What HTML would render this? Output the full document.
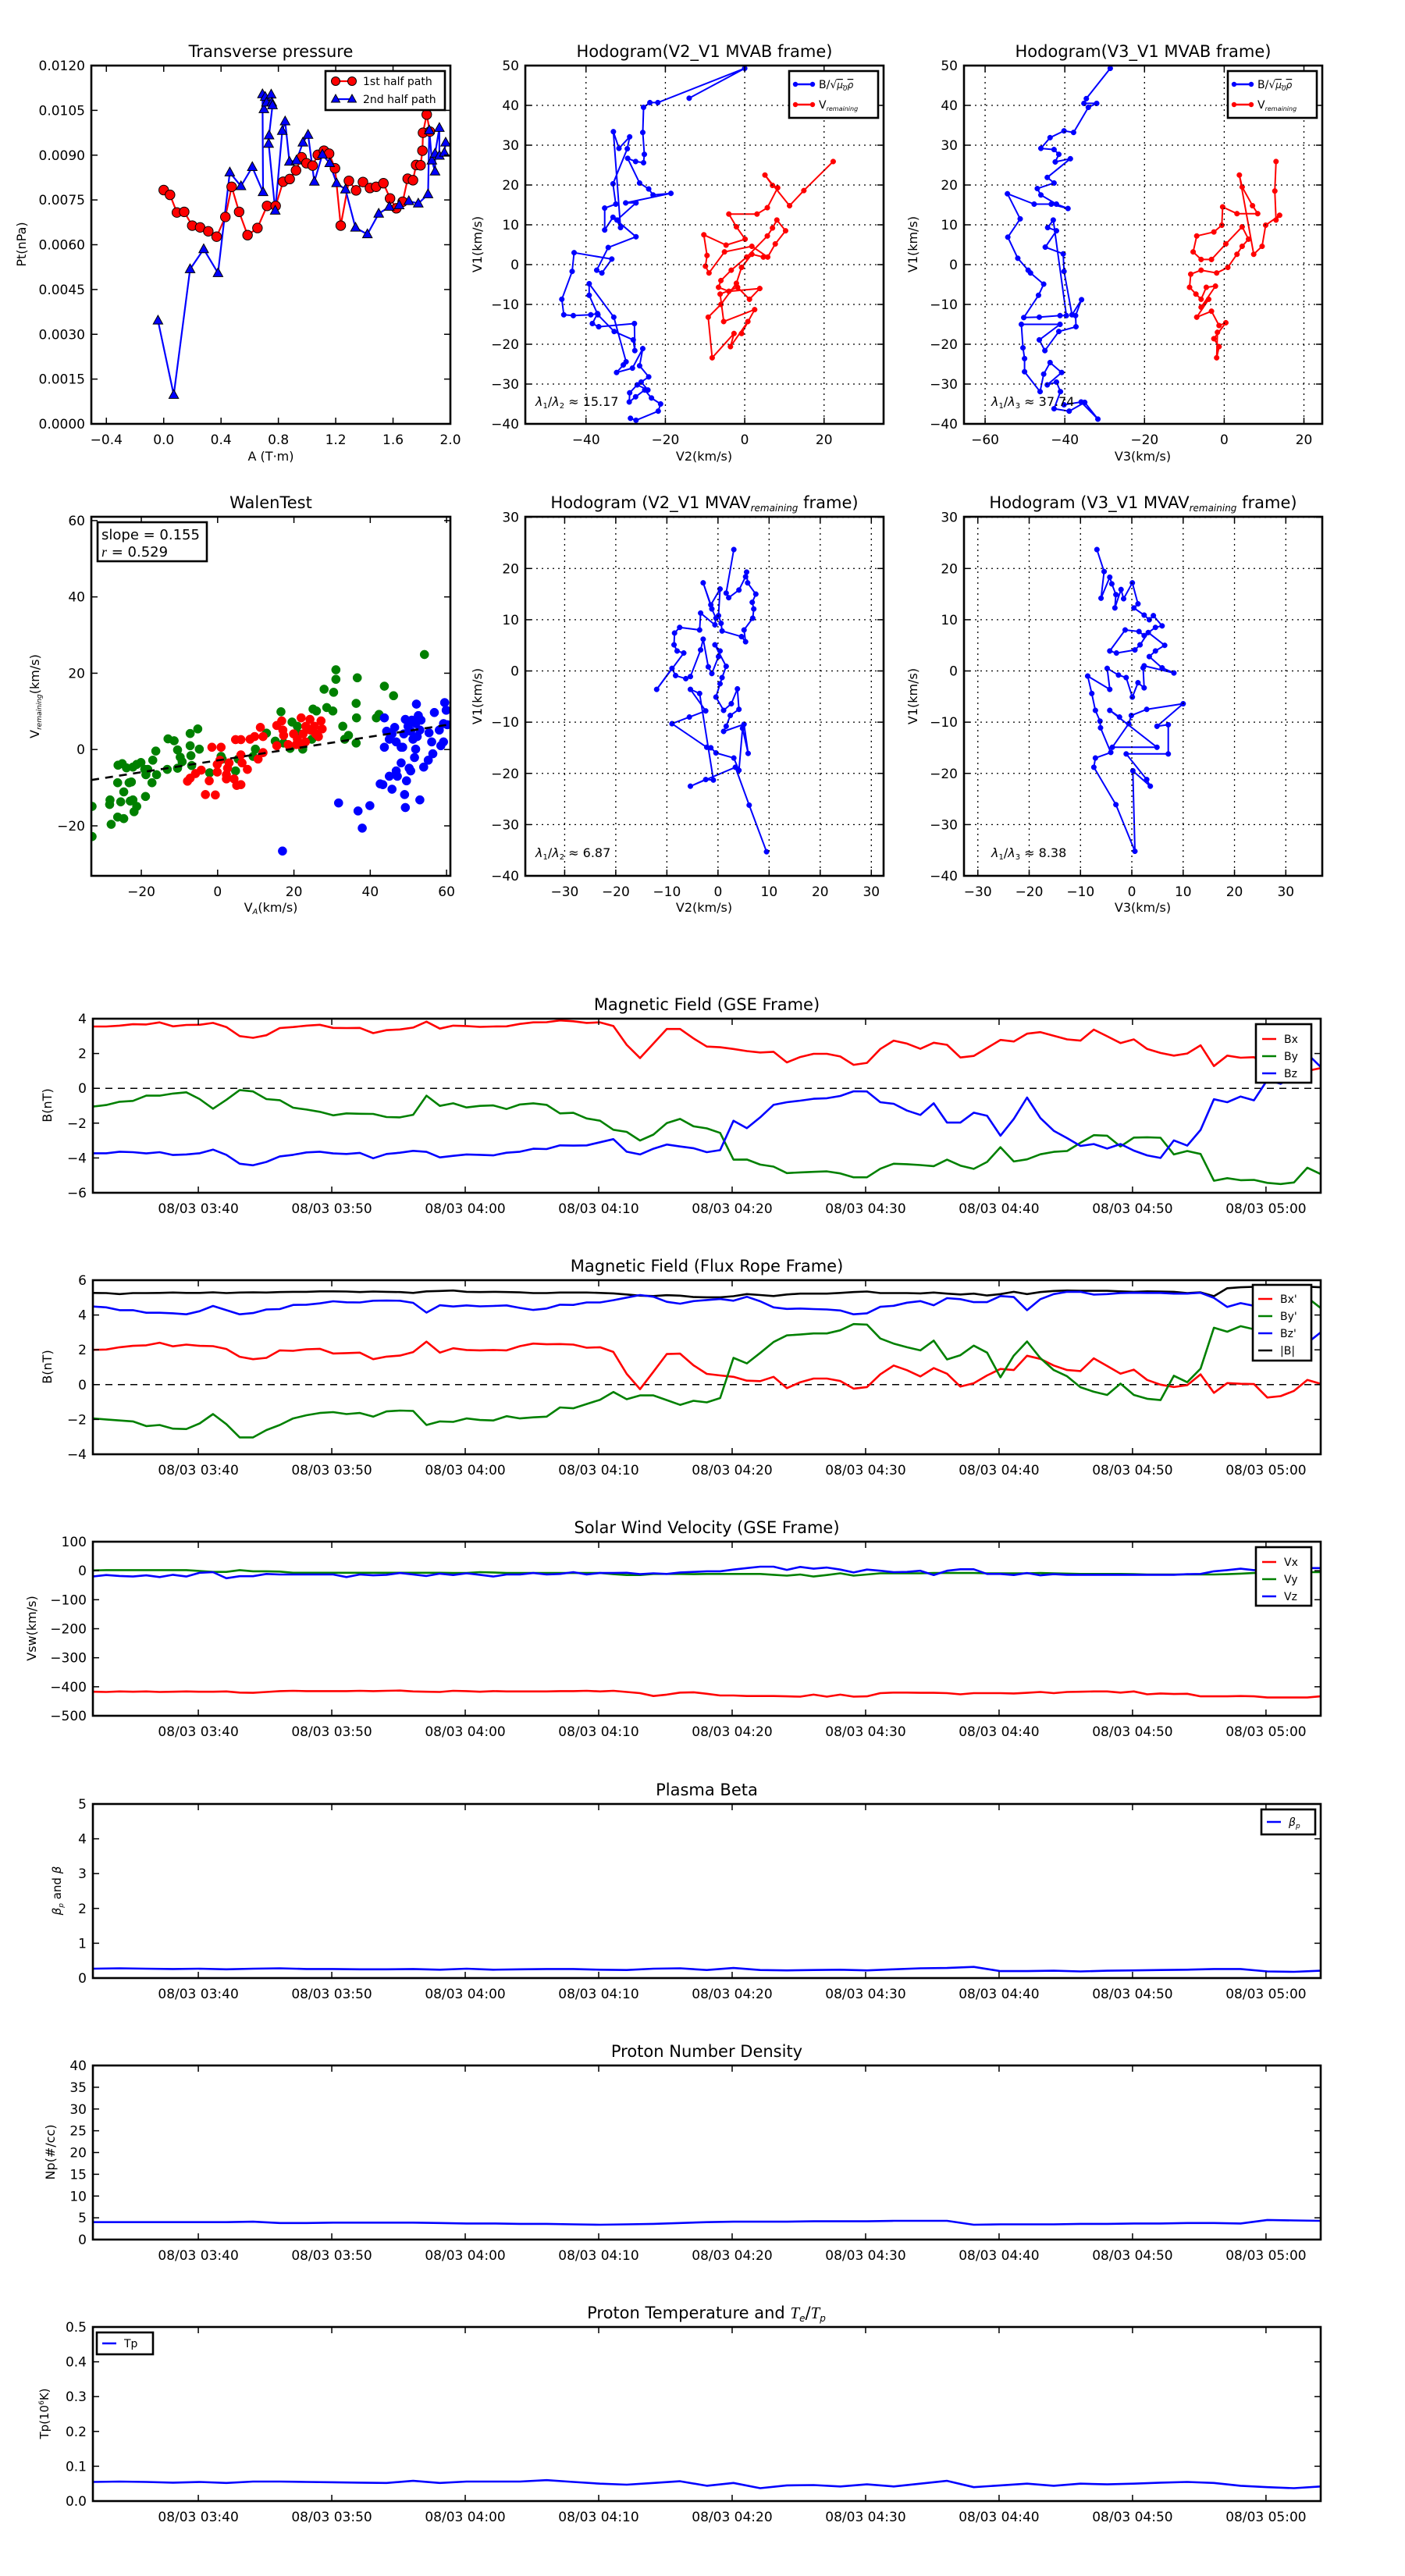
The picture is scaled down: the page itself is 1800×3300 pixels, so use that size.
<!DOCTYPE html>
<html><head><meta charset="utf-8">
<style>
html,body{margin:0;padding:0;background:#fff;}
svg{display:block;font-family:"DejaVu Sans","Liberation Sans",sans-serif;}
</style></head>
<body>
<svg id="chart" width="1800" height="3300" viewBox="0 0 1800 3300" xmlns="http://www.w3.org/2000/svg">
<rect x="0" y="0" width="1800" height="3300" fill="#fff"/>
</svg>
<script>
// ---------- data ----------
const ptA1=[0.0,0.044,0.092,0.143,0.199,0.254,0.311,0.369,0.43,0.474,0.526,0.585,0.654,0.721,0.781,0.833,0.879,0.923,0.962,0.996,1.039,1.075,1.118,1.154,1.195,1.235,1.292,1.342,1.39,1.439,1.482,1.533,1.579,1.623,1.667,1.702,1.739,1.761,1.792,1.805,1.809,1.835,1.857];
const ptP1=[0.00783,0.00767,0.00708,0.0071,0.00664,0.00658,0.00645,0.00627,0.00693,0.00794,0.0071,0.00632,0.00656,0.0073,0.0073,0.00811,0.0082,0.00849,0.00893,0.00873,0.00865,0.00901,0.00915,0.00905,0.00856,0.00664,0.00814,0.00782,0.0081,0.0079,0.00794,0.00806,0.00755,0.00722,0.00744,0.00821,0.00816,0.00867,0.00866,0.00915,0.00975,0.01036,0.00979];
const ptA2=[-0.04,0.07,0.184,0.279,0.379,0.461,0.539,0.618,0.693,0.689,0.699,0.708,0.717,0.75,0.754,0.759,0.735,0.732,0.778,0.827,0.847,0.877,0.926,0.971,1.007,1.051,1.107,1.158,1.206,1.268,1.338,1.421,1.5,1.574,1.643,1.71,1.776,1.844,1.853,1.871,1.893,1.893,1.923,1.923,1.958,1.967];
const ptP2=[0.00346,0.00097,0.00518,0.00585,0.00505,0.00842,0.00796,0.0086,0.00776,0.01104,0.01054,0.01095,0.01076,0.01103,0.01076,0.01067,0.00966,0.00938,0.00714,0.00981,0.01013,0.00878,0.00882,0.00942,0.00968,0.00811,0.00902,0.00873,0.00806,0.00785,0.00657,0.00635,0.00704,0.00727,0.00732,0.00746,0.00738,0.00769,0.00983,0.00882,0.00845,0.00905,0.00991,0.00898,0.00908,0.00942];

const h1B_V2=[-14.0,0,-21.9,-23.9,-25.5,-25.7,-25.3,-25.5,-27.5,-29.5,-26.5,-24.2,-23.1,-18.6,-30.0,-27.4,-32.2,-31.3,-33.1,-31.7,-29.0,-29.6,-33.2,-32.5,-35.3,-35.3,-33.2,-27.4,-34.4,-37.3,-36.0,-33.5,-43.0,-43.5,-46.1,-45.6,-43.2,-38.8,-37.1,-38.4,-36.8,-27.8,-27.7,-28.1,-32.9,-37.0,-39.2,-39.2,-33.0,-29.9,-30.6,-32.3,-28.3,-25.7,-26.5,-24.2,-26.1,-24.4,-27.1,-29.0,-29.1,-27.5,-25.2,-23.5,-21.2,-21.8,-27.4,-28.8];
const h1B_V1=[41.8,49.3,40.7,40.7,39.5,33.2,27.7,25.6,25.9,26.7,20.5,19.0,17.5,17.9,15.5,15.5,11.2,9.3,33.4,29.2,32.1,29.1,20.3,15.2,14.2,8.7,11.9,7.0,4.3,-1.4,-2.1,1.4,3.0,-1.7,-8.7,-12.6,-12.8,-12.6,-12.3,-14.8,-15.6,-14.8,-21.6,-18.9,-16.8,-12.6,-7.7,-4.8,-13.2,-24.4,-25.2,-27.1,-26.0,-21.1,-25.4,-28.2,-29.5,-31.5,-30.2,-32.2,-34.5,-33.2,-31.5,-33.5,-35.0,-36.8,-39.1,-38.6];
const h1V_V2=[22.3,14.9,11.3,5.1,7.0,8.3,5.7,3.1,-4.0,-2.1,0.1,-4.7,-10.3,-9.5,-9.9,-9.0,-5.1,1.8,5.8,7.7,10.3,8.1,7.0,5.7,0.5,-3.4,-6.0,-6.6,-4.0,3.8,1.2,-1.8,-6.2,-5.3,2.5,-0.8,0.8,-3.6,-2.7,-8.2,-9.2,-6.0,-2.1,-0.8,1.8,4.7];
const h1V_V1=[25.9,18.6,14.8,22.5,19.9,19.3,14.3,12.7,12.7,9.5,6.4,4.9,7.5,2.3,-0.4,-2.1,3.2,4.6,1.9,5.2,8.5,11.2,9.2,7.2,1.9,-1.4,-4.0,-5.7,-6.7,-6.0,-8.7,-5.7,-7.4,-14.3,-11.3,-17.3,-14.3,-20.6,-17.3,-23.4,-13.2,-10.0,-4.7,-0.7,2.6,1.9];

const h2B_V3=[-28.6,-34.6,-35.2,-32.0,-34.1,-37.8,-40.2,-43.7,-46.0,-42.7,-41.5,-42.4,-38.6,-44.4,-42.7,-46.9,-46.0,-42.1,-39.2,-43.4,-47.7,-54.4,-51.2,-54.3,-51.8,-49.2,-48.6,-45.3,-46.6,-50.3,-46.4,-41.2,-39.6,-42.9,-44.3,-42.1,-44.9,-40.4,-40.2,-38.2,-35.8,-37.3,-37.2,-41.5,-45.0,-46.4,-41.2,-50.9,-50.5,-50.1,-50.1,-46.2,-45.3,-43.7,-40.8,-44.4,-42.1,-41.1,-42.7,-38.9,-35.0,-31.7,-35.9,-40.2];
const h2B_V1=[49.3,41.7,40.5,40.5,39.5,33.2,33.6,31.9,29.2,28.9,27.7,25.8,26.6,21.9,20.5,19.1,17.5,15.2,14.1,15.2,15.2,17.8,11.5,6.9,1.6,-1.4,-2.1,-4.9,-7.7,-13.3,-13.2,-12.8,-12.8,11.2,9.3,8.5,4.4,2.7,-1.7,-12.6,-8.8,-12.8,-15.6,-16.8,-21.6,-18.9,-15.0,-15.0,-20.9,-23.6,-26.9,-31.9,-27.5,-24.6,-27.1,-30.2,-29.5,-31.9,-36.2,-36.8,-34.6,-38.8,-34.5,-35.2];
const h2V_V3=[13.0,12.7,13.0,13.9,10.4,9.5,7.4,3.8,4.5,7.1,8.4,3.2,-0.4,-0.6,-2.6,-6.9,-7.8,-5.8,-3.2,0.4,4.5,6.1,4.5,3.2,0.9,-1.9,-5.8,-8.4,-8.7,-7.1,-5.8,-4.5,-2.2,-5.8,-3.9,-6.9,-3.2,-1.3,0.4,-2.6,-1.3,-1.9,-1.7];
const h2V_V1=[25.9,18.5,11.2,12.4,9.9,4.6,2.6,22.5,19.5,14.8,12.8,12.8,14.5,9.9,8.2,7.2,3.2,1.3,1.3,5.2,9.5,6.4,4.6,2.6,-0.7,-2.1,-1.4,-2.4,-5.7,-7.4,-8.7,-5.7,-5.4,-10.7,-8.7,-13.2,-11.7,-15.3,-14.6,-18.6,-20.6,-23.4,-17.0];

const walenGreenX=[-32.9,-32.9,-27.9,-28.3,-28.2,-26.2,-24.6,-25.4,-24.6,-26.2,-23.2,-22.6,-22.9,-22.2,-21.2,-21.9,-18.9,-17.2,-18.8,-18.3,-16.0,-17.0,-16.2,-26.1,-25.0,-23.9,-22.2,-21.2,-20.1,-19.1,-13.2,-13.0,-11.4,-10.5,-9.8,-10.5,-9.3,-7.2,-7.2,-5.2,-7.0,-6.8,-4.8,-2.1,0.9,1.2,5.4,4.7,9.9,9.3,12.8,15.1,16.6,17.3,19.0,19.5,20.9,21.1,22.3,24.7,25.0,25.9,26.4,27.9,28.6,30.2,30.4,31.0,31.0,32.8,33.3,34.3,36.3,36.4,36.3,36.6,41.6,42.3,43.7,46.1,54.2];
const walenGreenY=[-14.9,-22.8,-19.6,-14.4,-13.2,-17.7,-18.1,-13.7,-11.1,-8.7,-8.7,-8.5,-13.5,-13.2,-14.9,-16.3,-12.3,-8.7,-6.6,-5.2,-6.6,-2.8,-0.4,-4.1,-3.7,-4.8,-4.6,-3.9,-3.4,-5.2,-5.2,2.8,2.3,-0.1,-2.0,-4.9,-3.2,1.0,4.2,5.4,-1.6,-4.2,0.1,-6.1,-1.8,-2.5,-2.5,-5.6,0.1,-1.8,4.3,2.2,9.9,1.7,0.3,7.2,6.1,4.2,0.1,2.7,10.6,10.1,3.4,15.8,11.0,10.1,15.0,18.4,20.9,6.1,2.7,3.7,12.1,8.3,1.7,18.8,8.3,9.2,16.6,14.1,24.9];
const walenRedX=[-7.9,-7.2,-5.8,-4.3,-3.2,-0.6,-2.2,-1.5,-0.1,0.6,0.9,-0.1,2.3,2.6,3.0,2.3,4.3,5.0,6.1,4.7,6.1,6.1,6.4,7.8,8.5,9.7,11.2,11.9,11.9,10.6,15.5,16.8,17.3,17.1,15.5,18.5,19.9,20.9,21.9,22.4,23.1,24.2,24.3,25.4,25.7,26.4,27.1,27.4,23.0,21.6,20.6];
const walenRedY=[-8.3,-7.5,-6.3,-5.4,-11.8,-11.9,-8.2,0.6,-5.9,-2.8,0.6,-3.9,-7.7,-4.9,-3.5,-6.6,-7.7,-9.4,-9.2,2.6,2.6,-1.4,-3.5,-5.2,2.7,3.4,5.8,3.4,-0.8,-2.5,6.3,7.5,3.7,5.1,1.0,1.3,4.1,2.7,8.3,4.1,6.1,7.9,5.1,6.1,4.1,3.4,7.5,5.4,2.0,1.3,1.3];
const walenBlueX=[17.0,31.7,36.8,37.9,39.9,42.6,43.3,45.7,43.7,43.7,44.3,46.4,46.8,48.1,49.2,49.0,49.5,48.1,46.8,45.0,47.1,48.5,50.2,50.6,51.9,51.6,52.1,52.6,53.0,54.0,55.4,56.1,56.4,55.2,56.8,58.5,59.2,59.5,59.9,59.2,58.1,60.2,50.9,51.9,53.3,49.2,49.9,52.3,53.0,51.2,50.6,48.8,45.0,45.7];
const walenBlueY=[-26.6,-14.0,-16.1,-20.6,-14.7,-9.0,-9.2,-10.4,0.6,8.3,4.8,5.8,2.0,0.6,-15.2,-11.8,-8.2,-3.5,-5.6,-7.0,-7.0,0.6,-4.9,-5.6,0.1,-2.1,11.9,8.9,-13.2,-4.6,4.4,2.0,-1.1,-2.8,9.7,1.0,2.0,12.3,10.3,6.8,5.1,6.5,7.7,6.8,7.7,7.9,6.1,3.4,5.1,2.7,4.8,4.1,2.7,4.1];
const walenSlope=[0.155];
const walenIntercept=[-2.85];

const h3_V2=[3.1,1.6,2.1,4.1,5.4,5.6,5.8,7.4,6.7,7.0,6.8,5.1,5.4,4.6,0.8,0.6,0.1,0.4,-1.4,-2.9,-1.2,-0.4,-0.6,-3.4,-3.6,-7.5,-8.5,-8.6,-8.0,-6.7,-12.0,-9.0,-8.3,-6.3,-5.4,-3.4,-2.9,-1.9,-1.2,0.1,0.4,-0.6,1.6,0.8,0.4,-0.4,1.1,2.6,3.8,4.1,2.4,1.6,1.1,5.1,5.9,4.8,4.1,3.1,-0.4,-1.4,-2.2,-9.0,-5.6,-2.4,-5.4,-3.6,-0.9,-2.4,-5.4,3.4,6.1,9.5];
const h3_V1=[23.7,15.2,14.3,15.8,18.4,19.3,17.2,15.0,13.4,12.1,10.3,8.0,5.7,6.7,7.8,9.3,10.8,16.0,12.9,17.2,12.1,10.3,9.0,11.3,8.0,8.5,7.4,5.1,3.9,3.5,-3.6,0.5,-0.9,-1.5,-1.1,4.1,6.2,0.8,-0.5,2.8,3.9,5.1,0.9,-1.3,-2.5,-5.1,-7.7,-6.4,-3.5,-7.5,-8.7,-10.8,-11.8,-10.4,-16.1,-11.2,-19.4,-17.0,-16.0,-15.0,-14.9,-10.3,-9.0,-7.8,-3.6,-4.4,-21.3,-21.2,-22.5,-18.8,-26.2,-35.3];
const h4_V3=[-6.8,-5.4,-6.0,-4.3,-3.9,-3.1,-3.3,-2.1,-1.6,0.1,1.2,0.4,2.4,3.4,4.2,5.9,4.6,2.4,1.4,-1.3,-4.3,-3.0,0.6,1.6,3.2,6.4,4.6,3.4,5.9,8.2,2.4,2.2,2.4,1.2,0.1,-1.1,-2.6,-4.8,-4.3,-8.6,-7.8,-7.1,-6.2,-6.1,-4.1,-7.1,-7.4,-3.1,0.6,0.2,3.6,2.9,-1.1,7.1,7.1,4.9,10.0,2.9,-0.1,-0.6,-3.8,4.9,-4.3,-2.4];
const h4_V1=[23.7,19.4,14.2,18.3,17.0,14.9,12.3,15.9,14.1,17.2,13.1,12.3,10.9,10.0,10.8,8.8,8.5,6.9,7.7,8.0,3.9,3.5,4.1,5.1,7.5,5.0,3.9,2.8,0.6,-0.4,1.0,0.6,-3.3,-2.3,-5.1,-1.3,-0.8,0.5,-3.6,-1.0,-4.4,-7.7,-9.8,-11.1,-15.9,-17.0,-18.8,-26.1,-35.2,-19.5,-22.5,-21.2,-16.2,-16.2,-10.5,-10.8,-6.4,-7.5,-8.7,-10.3,-14.9,-14.9,-7.7,-9.0];

const bxGse=[3.55,3.55,3.6,3.68,3.67,3.79,3.56,3.64,3.65,3.76,3.52,3.0,2.9,3.05,3.46,3.52,3.6,3.65,3.47,3.46,3.47,3.17,3.34,3.38,3.49,3.83,3.43,3.6,3.58,3.53,3.55,3.56,3.7,3.79,3.8,3.9,3.85,3.76,3.79,3.58,2.5,1.74,2.57,3.41,3.41,2.87,2.4,2.36,2.26,2.14,2.06,2.1,1.49,1.8,1.98,1.98,1.83,1.35,1.46,2.26,2.74,2.57,2.27,2.62,2.5,1.77,1.86,2.32,2.78,2.69,3.14,3.23,3.02,2.81,2.74,3.37,2.99,2.6,2.81,2.26,2.03,1.88,2.0,2.47,1.28,1.88,1.76,1.79,1.3,1.5,1.4,1.0,1.16];
const byGse=[-1.05,-0.96,-0.77,-0.72,-0.42,-0.42,-0.3,-0.23,-0.62,-1.17,-0.66,-0.1,-0.18,-0.62,-0.68,-1.11,-1.22,-1.35,-1.55,-1.44,-1.46,-1.47,-1.65,-1.67,-1.52,-0.42,-1.01,-0.86,-1.1,-1.01,-0.98,-1.19,-0.93,-0.86,-0.95,-1.44,-1.41,-1.73,-1.86,-2.38,-2.5,-3.0,-2.66,-2.0,-1.76,-2.18,-2.3,-2.56,-4.1,-4.09,-4.38,-4.5,-4.87,-4.83,-4.8,-4.77,-4.89,-5.11,-5.11,-4.62,-4.33,-4.36,-4.41,-4.47,-4.1,-4.44,-4.63,-4.23,-3.38,-4.2,-4.08,-3.79,-3.65,-3.6,-3.13,-2.69,-2.72,-3.34,-2.83,-2.81,-2.84,-3.8,-3.6,-3.77,-5.31,-5.16,-5.28,-5.26,-5.43,-5.5,-5.41,-4.56,-4.93];
const bzGse=[-3.73,-3.73,-3.64,-3.67,-3.74,-3.67,-3.83,-3.8,-3.73,-3.52,-3.82,-4.33,-4.42,-4.23,-3.91,-3.82,-3.68,-3.64,-3.74,-3.77,-3.71,-4.02,-3.77,-3.7,-3.59,-3.65,-3.97,-3.88,-3.8,-3.82,-3.85,-3.7,-3.64,-3.47,-3.49,-3.28,-3.29,-3.28,-3.1,-2.92,-3.64,-3.8,-3.47,-3.23,-3.34,-3.44,-3.67,-3.55,-1.86,-2.29,-1.67,-0.95,-0.8,-0.71,-0.6,-0.57,-0.44,-0.17,-0.18,-0.8,-0.89,-1.28,-1.53,-0.86,-1.97,-1.97,-1.4,-1.58,-2.72,-1.76,-0.53,-1.71,-2.44,-2.86,-3.31,-3.2,-3.46,-3.2,-3.58,-3.85,-4.0,-2.99,-3.29,-2.39,-0.63,-0.8,-0.47,-0.69,0.48,0.26,0.7,1.98,1.23];

const bxFr=[2.0,2.02,2.15,2.23,2.26,2.41,2.2,2.3,2.23,2.21,2.05,1.6,1.46,1.54,1.97,1.94,2.03,2.06,1.79,1.81,1.84,1.46,1.61,1.67,1.87,2.47,1.84,2.09,1.99,1.97,1.99,1.97,2.21,2.36,2.32,2.33,2.3,2.12,2.15,1.88,0.62,-0.26,0.74,1.76,1.78,1.11,0.62,0.53,0.45,0.23,0.2,0.45,-0.2,0.14,0.35,0.35,0.21,-0.23,-0.14,0.59,1.1,0.83,0.47,0.95,0.63,-0.11,0.08,0.53,0.9,0.84,1.66,1.48,1.1,0.84,0.78,1.51,1.07,0.63,0.86,0.27,0,-0.14,-0.03,0.59,-0.47,0.09,0.05,0.03,-0.74,-0.66,-0.36,0.27,0.05];
const byFr=[-1.94,-2.0,-2.06,-2.11,-2.38,-2.32,-2.53,-2.55,-2.23,-1.69,-2.27,-3.03,-3.03,-2.61,-2.32,-1.94,-1.76,-1.63,-1.58,-1.69,-1.63,-1.84,-1.54,-1.49,-1.51,-2.32,-2.11,-2.14,-1.94,-2.03,-2.06,-1.81,-1.94,-1.88,-1.84,-1.31,-1.36,-1.11,-0.87,-0.42,-0.84,-0.62,-0.62,-0.89,-1.16,-0.93,-1.02,-0.77,1.54,1.22,1.82,2.45,2.83,2.88,2.94,2.94,3.12,3.48,3.45,2.65,2.36,2.15,1.97,2.53,1.45,1.69,2.24,1.84,0.42,1.67,2.48,1.52,0.84,0.48,-0.15,-0.41,-0.59,0.06,-0.59,-0.81,-0.89,0.51,0.14,0.92,3.27,3.04,3.36,3.18,3.3,3.6,4.5,5.0,4.4];
const bzFr=[4.49,4.44,4.28,4.28,4.13,4.13,4.1,4.04,4.22,4.52,4.28,4.04,4.11,4.32,4.34,4.58,4.59,4.67,4.79,4.73,4.72,4.82,4.83,4.82,4.7,4.14,4.56,4.49,4.55,4.5,4.52,4.55,4.41,4.29,4.37,4.59,4.58,4.72,4.72,4.85,5.0,5.15,5.05,4.76,4.65,4.8,4.86,4.92,4.82,5.05,4.79,4.44,4.35,4.37,4.34,4.32,4.26,4.04,4.1,4.47,4.53,4.71,4.8,4.56,4.97,4.91,4.74,4.74,5.09,5.03,4.28,4.91,5.2,5.33,5.33,5.17,5.2,5.26,5.28,5.27,5.27,5.23,5.23,5.28,4.98,4.46,4.68,4.53,4.65,4.5,4.4,2.4,3.0];
const btFr=[5.27,5.26,5.2,5.26,5.26,5.27,5.29,5.27,5.27,5.3,5.26,5.29,5.3,5.29,5.32,5.33,5.33,5.36,5.36,5.35,5.32,5.35,5.33,5.32,5.27,5.36,5.38,5.41,5.33,5.32,5.33,5.32,5.3,5.26,5.26,5.29,5.29,5.29,5.27,5.24,5.18,5.11,5.09,5.14,5.11,5.03,5.02,5.02,5.08,5.2,5.15,5.09,5.18,5.23,5.23,5.23,5.27,5.32,5.35,5.26,5.26,5.26,5.24,5.29,5.23,5.18,5.23,5.12,5.2,5.33,5.2,5.32,5.38,5.41,5.39,5.39,5.39,5.36,5.33,5.36,5.35,5.33,5.26,5.3,5.08,5.54,5.59,5.62,5.63,5.65,5.65,5.63,5.59];

const vx=[-417,-418,-416,-417,-416,-418,-417,-416,-417,-417,-416,-420,-421,-418,-415,-414,-415,-415,-415,-415,-414,-415,-414,-413,-416,-417,-418,-414,-415,-417,-415,-416,-416,-416,-416,-415,-415,-414,-416,-414,-418,-422,-432,-427,-420,-419,-424,-430,-430,-432,-432,-432,-433,-434,-427,-434,-427,-434,-433,-422,-420,-420,-421,-421,-422,-426,-422,-422,-422,-423,-421,-418,-422,-418,-417,-416,-416,-420,-416,-426,-423,-425,-424,-433,-433,-433,-432,-433,-437,-437,-437,-437,-433];
const vy=[1,2,2,2,2,2,2,2,-1,-4,-4,2,-2,-2,-3,-7,-7,-7,-7,-7,-7,-7,-7,-7,-7,-7,-7,-8,-8,-5,-6,-8,-8,-8,-8,-8,-8,-8,-8,-12,-15,-15,-11,-11,-11,-12,-11,-11,-11,-11,-11,-14,-17,-13,-20,-15,-9,-17,-13,-9,-9,-9,-9,-8,-8,-8,-8,-9,-9,-9,-9,-8,-9,-10,-11,-11,-11,-11,-12,-13,-13,-13,-13,-13,-13,-12,-10,-8,-6,-5,-5,-5,-5];
const vz=[-20,-15,-18,-20,-16,-22,-14,-20,-7,-5,-26,-19,-19,-11,-13,-13,-13,-13,-13,-22,-13,-16,-14,-8,-13,-18,-10,-15,-9,-14,-20,-13,-13,-8,-13,-11,-5,-13,-8,-8,-7,-12,-9,-11,-6,-4,-2,-2,4,9,14,14,3,13,7,11,4,-6,4,0,-5,-4,0,-15,0,5,5,-11,-11,-15,-8,-16,-12,-14,-14,-14,-14,-14,-14,-14,-14,-14,-12,-11,-2,2,7,2,5,10,13,9,9];

const betaP=[0.27,0.28,0.27,0.26,0.27,0.25,0.27,0.28,0.26,0.26,0.25,0.25,0.26,0.24,0.27,0.24,0.25,0.26,0.26,0.24,0.23,0.27,0.28,0.23,0.29,0.23,0.22,0.23,0.24,0.22,0.25,0.28,0.29,0.32,0.2,0.2,0.21,0.19,0.21,0.22,0.23,0.24,0.26,0.26,0.19,0.18,0.21];
const npDens=[4.0,4.0,4.0,4.0,4.0,4.0,4.1,3.8,3.8,3.9,3.9,3.9,3.9,3.8,3.7,3.7,3.6,3.6,3.5,3.4,3.5,3.6,3.8,4.0,4.1,4.1,4.1,4.2,4.2,4.2,4.3,4.3,4.3,3.4,3.5,3.5,3.5,3.6,3.6,3.7,3.7,3.8,3.8,3.7,4.5,4.4,4.3];
const tpTemp=[0.055,0.056,0.055,0.053,0.055,0.052,0.056,0.056,0.055,0.054,0.053,0.052,0.058,0.052,0.056,0.056,0.056,0.06,0.055,0.05,0.047,0.052,0.057,0.044,0.052,0.037,0.045,0.046,0.042,0.048,0.042,0.05,0.058,0.04,0.045,0.05,0.044,0.05,0.048,0.05,0.053,0.055,0.052,0.044,0.04,0.037,0.042];

const timeTickMin=[40,50,60,70,80,90,100,110,120];
const timeTickLabels=["08/03 03:40","08/03 03:50","08/03 04:00","08/03 04:10","08/03 04:20","08/03 04:30","08/03 04:40","08/03 04:50","08/03 05:00"];
const TSTART=32.1, TEND=124.1;

// ---------- helpers ----------
const NS='http://www.w3.org/2000/svg';
const svg=document.getElementById('chart');
function el(tag,attrs,parent){const e=document.createElementNS(NS,tag);for(const k in attrs)e.setAttribute(k,attrs[k]);(parent||svg).appendChild(e);return e;}
let clipN=0;
function makeAxes(name,x0,y0,w,h,xd,yd){
  const g=el('g',{});
  
  
  const id='clip'+(clipN++);
  const cp=el('clipPath',{id:id},g);el('rect',{x:x0,y:y0,width:w,height:h},cp);
  const plot=el('g',{'clip-path':'url(#'+id+')'},g);
  
  
  return {g,plot,x0,y0,w,h,sx:v=>x0+(v-xd[0])/(xd[1]-xd[0])*w,sy:v=>y0+h-(v-yd[0])/(yd[1]-yd[0])*h};
}
function frame(ax){
  const r=el('rect',{x:ax.x0,y:ax.y0,width:ax.w,height:ax.h,fill:'none',stroke:'#000','stroke-width':2.6},ax.g);
  
  
}
function txt(parent,x,y,s,size,anchor,extra){
  const t=el('text',Object.assign({x:x,y:y,'font-size':size,'text-anchor':anchor||'start',fill:'#000'},extra||{}),parent);
  t.textContent=s;return t;
}
function xTicks(ax,vals,labels,grid,name){
  vals.forEach((v,i)=>{
    const x=ax.sx(v);
    if(grid){const gl=el('line',{x1:x,x2:x,y1:ax.y0,y2:ax.y0+ax.h,stroke:'#000','stroke-width':1.3,'stroke-dasharray':'2,5'},ax.g);}
    el('line',{x1:x,x2:x,y1:ax.y0+ax.h,y2:ax.y0+ax.h-8,stroke:'#000','stroke-width':1.5},ax.g);
    el('line',{x1:x,x2:x,y1:ax.y0,y2:ax.y0+8,stroke:'#000','stroke-width':1.5},ax.g);
    const t=txt(ax.g,x,ax.y0+ax.h+26,labels[i],17,'middle');
    
    
  });
}
function yTicks(ax,vals,labels,grid,name){
  vals.forEach((v,i)=>{
    const y=ax.sy(v);
    if(grid){const gl=el('line',{x1:ax.x0,x2:ax.x0+ax.w,y1:y,y2:y,stroke:'#000','stroke-width':1.3,'stroke-dasharray':'2,5'},ax.g);}
    el('line',{x1:ax.x0,x2:ax.x0+8,y1:y,y2:y,stroke:'#000','stroke-width':1.5},ax.g);
    el('line',{x1:ax.x0+ax.w,x2:ax.x0+ax.w-8,y1:y,y2:y,stroke:'#000','stroke-width':1.5},ax.g);
    const t=txt(ax.g,ax.x0-8,y+6,labels[i],17,'end');
    
    
  });
}
function line(ax,xs,ys,color,name,width,dash){
  const pts=xs.map((x,i)=>ax.sx(x).toFixed(1)+','+ax.sy(ys[i]).toFixed(1)).join(' ');
  const p=el('polyline',{points:pts,fill:'none',stroke:color,'stroke-width':width||2.6,'stroke-linejoin':'round'},ax.plot);
  if(dash)p.setAttribute('stroke-dasharray',dash);
  
  
  return p;
}
function markers(ax,xs,ys,shape,color,r,name){
  const g=el('g',{},ax.plot);
  
  
  xs.forEach((x,i)=>{
    const cx=ax.sx(x),cy=ax.sy(ys[i]);let m;
    if(shape==='tri'){m=el('polygon',{points:`${cx},${cy-r*1.2} ${cx-r*1.1},${cy+r*0.8} ${cx+r*1.1},${cy+r*0.8}`,fill:color,stroke:'#000','stroke-width':1},g);}
    else if(shape==='circ'){m=el('circle',{cx:cx,cy:cy,r:r,fill:color,stroke:'#000','stroke-width':1},g);}
    else {m=el('circle',{cx:cx,cy:cy,r:r,fill:color,stroke:color,'stroke-width':0.5},g);}
    
    
  });
}
function title(ax,s,name){const t=txt(svg,ax.x0+ax.w/2,ax.y0-11,s,21,'middle');return t;}
function ylabel(x,y,s,name,size){const t=txt(svg,x,y,s,size||16,'middle',{transform:`rotate(-90 ${x} ${y})`});return t;}
function xlabel(x,y,s,name){const t=txt(svg,x,y,s,16,'middle');return t;}
function legendBox(x,y,w,h,name){const g=el('g',{});el('rect',{x:x,y:y,width:w,height:h,fill:'#fff',stroke:'#000','stroke-width':2.6},g);return g;}
function legendLine(g,x,y,len,color,label,size){
  const l=el('line',{x1:x,x2:x+len,y1:y,y2:y,stroke:color,'stroke-width':2.6},g);
  
  
  const t=txt(g,x+len+10,y+5,label,size||15,'start');
  
  
  return t;
}
function tminIdx(arr){return arr.map((_,i)=>TSTART+i*(TEND-TSTART)/(arr.length-1));}
function rng(a,b,s){const o=[];for(let v=a;v<=b+1e-9;v+=s)o.push(+v.toFixed(6));return o;}
const MINUS='\u2212';
function fmt(v,d){const s=Math.abs(v).toFixed(d);return (v<0?MINUS:'')+s;}

// ---------- Row 1: Transverse pressure ----------
{
  const ax=makeAxes('transverse-pressure-chart',117,84,460,459,[-0.505,2.0],[0,0.012]);
  const xv=rng(-0.4,2.0,0.4);xTicks(ax,xv,xv.map(v=>fmt(v,1)),false,'x-axis');
  const yv=rng(0,0.012,0.0015);yTicks(ax,yv,yv.map(v=>v.toFixed(4)),false,'y-axis');
  line(ax,ptA1,ptP1,'#ff0000','first-half-path-line',2.2);
  line(ax,ptA2,ptP2,'#0000ff','second-half-path-line',2.2);
  markers(ax,ptA1,ptP1,'circ','#ff0000',6.2,'first-half-path-markers');
  markers(ax,ptA2,ptP2,'tri','#0000ff',5.6,'second-half-path-markers');
  frame(ax);
  title(ax,'Transverse pressure','transverse-pressure-title');
  ylabel(33,313,'Pt(nPa)','y-axis-title',16);
  xlabel(347,590,'A (T\u00b7m)','x-axis-title');
  const lg=legendBox(417,91,153,50,'pt-legend');
  [[104,'#ff0000','circ','1st half path'],[127,'#0000ff','tri','2nd half path']].forEach(e=>{
    const y=e[0];
    const l=el('line',{x1:430,x2:451,y1:y,y2:y,stroke:e[1],'stroke-width':2.2},lg);
    
    
    [430,451].forEach(cx=>{
      if(e[2]==='circ')el('circle',{cx:cx,cy:y,r:5.5,fill:e[1],stroke:'#000','stroke-width':1},lg);
      else el('polygon',{points:`${cx},${y-6} ${cx-5.5},${y+4} ${cx+5.5},${y+4}`,fill:e[1],stroke:'#000','stroke-width':1},lg);
    });
    const t=txt(lg,465,y+5,e[3],14,'start');
    
    
  });
}

function hodoLegend(x,y,name){
  const lg=legendBox(x,y,114,60,name);
  const items=[[y+17,'#0000ff'],[y+43,'#ff0000']];
  items.forEach(e=>{
    const l=el('line',{x1:x+8,x2:x+30,y1:e[0],y2:e[0],stroke:e[1],'stroke-width':2.4},lg);
    
    
    el('circle',{cx:x+8,cy:e[0],r:3.2,fill:e[1]},lg);el('circle',{cx:x+30,cy:e[0],r:3.2,fill:e[1]},lg);
  });
  const t1=el('text',{x:x+38,y:y+22,'font-size':14},lg);
  
  
  t1.innerHTML='B/\u221a<tspan text-decoration="overline" font-style="italic" font-size="12">\u03bc<tspan font-size="9" dy="3">0</tspan><tspan dy="-3">\u03c1</tspan></tspan>';
  const t2=el('text',{x:x+38,y:y+48,'font-size':14},lg);
  
  
  t2.innerHTML='V<tspan font-size="8" font-style="italic" dy="3">remaining</tspan>';
}
function lambdaText(x,y,sub,val,name){
  const t=el('text',{x:x,y:y,'font-size':16,fill:'#000'});
  
  
  t.innerHTML=`<tspan font-style="italic">\u03bb</tspan><tspan font-size="10" dy="3">1</tspan><tspan dy="-3">/</tspan><tspan font-style="italic">\u03bb</tspan><tspan font-size="10" dy="3">${sub}</tspan><tspan dy="-3"> \u2248 ${val}</tspan>`;
}

// ---------- Hodogram V2_V1 MVAB ----------
{
  const ax=makeAxes('hodogram-v2-v1-mvab',673,84,459,459,[-55.3,35.0],[-40,50]);
  const xv=[-40,-20,0,20];xTicks(ax,xv,xv.map(v=>fmt(v,0)),true,'x-axis');
  const yv=rng(-40,50,10);yTicks(ax,yv,yv.map(v=>fmt(v,0)),true,'y-axis');
  line(ax,h1B_V2,h1B_V1,'#0000ff','b-alfven-path',2);
  markers(ax,h1B_V2,h1B_V1,'dot','#0000ff',3.3,'b-alfven-points');
  line(ax,h1V_V2,h1V_V1,'#ff0000','v-remaining-path',2);
  markers(ax,h1V_V2,h1V_V1,'dot','#ff0000',3.3,'v-remaining-points');
  frame(ax);
  title(ax,'Hodogram(V2_V1 MVAB frame)','hodogram-v2-v1-mvab-title');
  ylabel(617,313,'V1(km/s)','y-axis-title');
  xlabel(902,590,'V2(km/s)','x-axis-title');
  hodoLegend(1011,91,'hodogram-v2-legend');
  lambdaText(686,520,'2','15.17','eigen-ratio-label');
}
// ---------- Hodogram V3_V1 MVAB ----------
{
  const ax=makeAxes('hodogram-v3-v1-mvab',1235,84,459,459,[-65.3,24.6],[-40,50]);
  const xv=[-60,-40,-20,0,20];xTicks(ax,xv,xv.map(v=>fmt(v,0)),true,'x-axis');
  const yv=rng(-40,50,10);yTicks(ax,yv,yv.map(v=>fmt(v,0)),true,'y-axis');
  line(ax,h2B_V3,h2B_V1,'#0000ff','b-alfven-path',2);
  markers(ax,h2B_V3,h2B_V1,'dot','#0000ff',3.3,'b-alfven-points');
  line(ax,h2V_V3,h2V_V1,'#ff0000','v-remaining-path',2);
  markers(ax,h2V_V3,h2V_V1,'dot','#ff0000',3.3,'v-remaining-points');
  frame(ax);
  title(ax,'Hodogram(V3_V1 MVAB frame)','hodogram-v3-v1-mvab-title');
  ylabel(1175,313,'V1(km/s)','y-axis-title');
  xlabel(1464,590,'V3(km/s)','x-axis-title');
  hodoLegend(1573,91,'hodogram-v3-legend');
  lambdaText(1270,520,'3','37.74','eigen-ratio-label');
}
// ---------- Walen test ----------
{
  const ax=makeAxes('walen-test-chart',117,662,460,460,[-33.1,61.0],[-33.1,61.0]);
  const xv=[-20,0,20,40,60];xTicks(ax,xv,xv.map(v=>fmt(v,0)),false,'x-axis');
  const yv=[-20,0,20,40,60];yTicks(ax,yv,yv.map(v=>fmt(v,0)),false,'y-axis');
  markers(ax,walenGreenX,walenGreenY,'dot','#008000',5.6,'walen-green-points');
  markers(ax,walenRedX,walenRedY,'dot','#ff0000',5.6,'walen-red-points');
  markers(ax,walenBlueX,walenBlueY,'dot','#0000ff',5.6,'walen-blue-points');
  const lx=[-33.1,61.0];
  line(ax,lx,lx.map(v=>walenSlope[0]*v+walenIntercept[0]),'#000','regression-line',2.6,'10,8');
  frame(ax);
  title(ax,'WalenTest','walen-test-title');
  const yl=el('text',{x:50,y:892,'font-size':16,'text-anchor':'middle',transform:'rotate(-90 50 892)'});
  
  
  yl.innerHTML='V<tspan font-size="9" font-style="italic" dy="3">remaining</tspan><tspan dy="-3">(km/s)</tspan>';
  const xl=el('text',{x:347,y:1168,'font-size':16,'text-anchor':'middle'});
  
  
  xl.innerHTML='V<tspan font-size="10" font-style="italic" dy="3">A</tspan><tspan dy="-3">(km/s)</tspan>';
  const bx=legendBox(125,669,140,50,'walen-stats-box');
  const t1=txt(bx,130,691,'slope = 0.155',18,'start');
  
  
  const t2=el('text',{x:130,y:713,'font-size':18},bx);
  
  
  t2.innerHTML='<tspan font-style="italic" font-family="Liberation Serif, serif">r</tspan> = 0.529';
}
function remTitle(ax,pre,name){
  const t=el('text',{x:ax.x0+ax.w/2,y:ax.y0-11,'font-size':21,'text-anchor':'middle'});
  
  
  t.innerHTML=pre+'<tspan font-size="12" font-style="italic" dy="4">remaining</tspan><tspan dy="-4"> frame)</tspan>';
}
// ---------- Hodogram row 2 ----------
{
  const ax=makeAxes('hodogram-v2-v1-mvav',673,662,459,460,[-37.7,32.4],[-40,30.1]);
  const xv=rng(-30,30,10);xTicks(ax,xv,xv.map(v=>fmt(v,0)),true,'x-axis');
  const yv=rng(-40,30,10);yTicks(ax,yv,yv.map(v=>fmt(v,0)),true,'y-axis');
  line(ax,h3_V2,h3_V1,'#0000ff','hodogram-path',2);
  markers(ax,h3_V2,h3_V1,'dot','#0000ff',3.3,'hodogram-points');
  frame(ax);
  remTitle(ax,'Hodogram (V2_V1 MVAV','hodogram-v2-v1-mvav-title');
  ylabel(617,892,'V1(km/s)','y-axis-title');
  xlabel(902,1168,'V2(km/s)','x-axis-title');
  lambdaText(686,1098,'2','6.87','eigen-ratio-label');
}
{
  const ax=makeAxes('hodogram-v3-v1-mvav',1235,662,459,460,[-32.7,37.1],[-40,30.1]);
  const xv=rng(-30,30,10);xTicks(ax,xv,xv.map(v=>fmt(v,0)),true,'x-axis');
  const yv=rng(-40,30,10);yTicks(ax,yv,yv.map(v=>fmt(v,0)),true,'y-axis');
  line(ax,h4_V3,h4_V1,'#0000ff','hodogram-path',2);
  markers(ax,h4_V3,h4_V1,'dot','#0000ff',3.3,'hodogram-points');
  frame(ax);
  remTitle(ax,'Hodogram (V3_V1 MVAV','hodogram-v3-v1-mvav-title');
  ylabel(1175,892,'V1(km/s)','y-axis-title');
  xlabel(1464,1168,'V3(km/s)','x-axis-title');
  lambdaText(1270,1098,'3','8.38','eigen-ratio-label');
}

// ---------- Time series panels ----------
function timePanel(name,top,yd,ytv,ytl){
  const ax=makeAxes(name,119,top,1573,223,[TSTART,TEND],yd);
  xTicks(ax,timeTickMin,timeTickLabels,false,'time-axis');
  yTicks(ax,ytv,ytl,false,'y-axis');
  return ax;
}
{
  const ax=timePanel('magnetic-field-gse-chart',1305,[-6,4],rng(-6,4,2),rng(-6,4,2).map(v=>fmt(v,0)));
  line(ax,[TSTART,TEND],[0,0],'#000','zero-line',1.5,'9,7');
  line(ax,tminIdx(bxGse),bxGse,'#ff0000','bx-line');
  line(ax,tminIdx(byGse),byGse,'#008000','by-line');
  line(ax,tminIdx(bzGse),bzGse,'#0000ff','bz-line');
  frame(ax);
  title(ax,'Magnetic Field (GSE Frame)','magnetic-field-gse-title');
  ylabel(66,1416,'B(nT)','y-axis-title');
  const lg=legendBox(1609,1312,71,75,'gse-legend');
  legendLine(lg,1617,1331,18,'#ff0000','Bx',14);
  legendLine(lg,1617,1353,18,'#008000','By',14);
  legendLine(lg,1617,1375,18,'#0000ff','Bz',14);
}
{
  const ax=timePanel('magnetic-field-flux-rope-chart',1640,[-4,6],rng(-4,6,2),rng(-4,6,2).map(v=>fmt(v,0)));
  line(ax,[TSTART,TEND],[0,0],'#000','zero-line',1.5,'9,7');
  line(ax,tminIdx(btFr),btFr,'#000000','b-total-line');
  line(ax,tminIdx(bzFr),bzFr,'#0000ff','bz-prime-line');
  line(ax,tminIdx(bxFr),bxFr,'#ff0000','bx-prime-line');
  line(ax,tminIdx(byFr),byFr,'#008000','by-prime-line');
  frame(ax);
  title(ax,'Magnetic Field (Flux Rope Frame)','magnetic-field-flux-rope-title');
  ylabel(66,1751,'B(nT)','y-axis-title');
  const lg=legendBox(1605,1646,75,97,'flux-rope-legend');
  legendLine(lg,1612,1664,18,'#ff0000',"Bx'",14);
  legendLine(lg,1612,1686,18,'#008000',"By'",14);
  legendLine(lg,1612,1708,18,'#0000ff',"Bz'",14);
  legendLine(lg,1612,1730,18,'#000000','|B|',14);
}
{
  const ax=timePanel('solar-wind-velocity-chart',1975,[-500,100],rng(-500,100,100),rng(-500,100,100).map(v=>fmt(v,0)));
  line(ax,tminIdx(vx),vx,'#ff0000','vx-line');
  line(ax,tminIdx(vy),vy,'#008000','vy-line');
  line(ax,tminIdx(vz),vz,'#0000ff','vz-line');
  frame(ax);
  title(ax,'Solar Wind Velocity (GSE Frame)','solar-wind-velocity-title');
  ylabel(46,2086,'Vsw(km/s)','y-axis-title');
  const lg=legendBox(1609,1982,71,75,'velocity-legend');
  legendLine(lg,1617,2001,18,'#ff0000','Vx',14);
  legendLine(lg,1617,2023,18,'#008000','Vy',14);
  legendLine(lg,1617,2045,18,'#0000ff','Vz',14);
}
{
  const ax=timePanel('plasma-beta-chart',2311,[0,5],rng(0,5,1),rng(0,5,1).map(v=>fmt(v,0)));
  line(ax,tminIdx(betaP),betaP,'#0000ff','beta-p-line');
  frame(ax);
  title(ax,'Plasma Beta','plasma-beta-title');
  const yl=el('text',{x:78,y:2422,'font-size':15,'text-anchor':'middle',transform:'rotate(-90 78 2422)'});
  
  
  yl.innerHTML='<tspan font-style="italic">\u03b2</tspan><tspan font-size="9" font-style="italic" dy="3">p</tspan><tspan dy="-3"> and </tspan><tspan font-style="italic">\u03b2</tspan>';
  const lg=legendBox(1616,2318,69,32,'beta-legend');
  const t=legendLine(lg,1623,2334,18,'#0000ff','',14);
  t.innerHTML='<tspan font-style="italic">\u03b2</tspan><tspan font-size="9" font-style="italic" dy="3">p</tspan>';
}
{
  const ax=timePanel('proton-density-chart',2646,[0,40],rng(0,40,5),rng(0,40,5).map(v=>fmt(v,0)));
  line(ax,tminIdx(npDens),npDens,'#0000ff','density-line');
  frame(ax);
  title(ax,'Proton Number Density','proton-density-title');
  ylabel(70,2757,'Np(#/cc)','y-axis-title');
}
{
  const ax=timePanel('proton-temperature-chart',2981,[0,0.5],rng(0,0.5,0.1),rng(0,0.5,0.1).map(v=>v.toFixed(1)));
  line(ax,tminIdx(tpTemp),tpTemp,'#0000ff','temperature-line');
  frame(ax);
  const tt=el('text',{x:905,y:2970,'font-size':21,'text-anchor':'middle'});
  
  
  tt.innerHTML='Proton Temperature and <tspan font-style="italic" font-family="Liberation Serif, serif">T</tspan><tspan font-size="12" font-style="italic" dy="4">e</tspan><tspan dy="-4">/</tspan><tspan font-style="italic" font-family="Liberation Serif, serif">T</tspan><tspan font-size="12" font-style="italic" dy="4">p</tspan>';
  const yl=el('text',{x:62,y:3092,'font-size':15,'text-anchor':'middle',transform:'rotate(-90 62 3092)'});
  
  
  yl.innerHTML='Tp(10<tspan font-size="9" dy="-6">6</tspan><tspan dy="6">K)</tspan>';
  const lg=legendBox(124,2988,72,28,'temperature-legend');
  legendLine(lg,131,3002,18,'#0000ff','Tp',14);
}
</script>
</body></html>
